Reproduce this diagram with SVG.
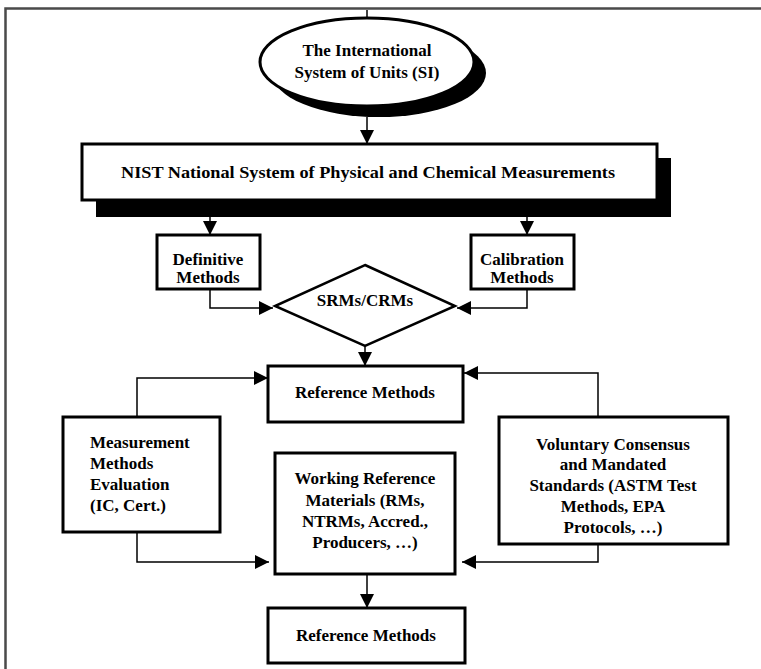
<svg xmlns="http://www.w3.org/2000/svg" width="761" height="669" viewBox="0 0 761 669">
<defs>
<marker id="ah" markerUnits="userSpaceOnUse" markerWidth="14" markerHeight="14" refX="14" refY="7" orient="auto">
<path d="M0,0 L14,7 L0,14 z" fill="#000"/>
</marker>
<style>
.box{fill:#fff;stroke:#000;stroke-width:3}
.sh{fill:#000}
.t{font-family:"Liberation Serif","Times New Roman",serif;font-weight:bold;font-size:17px;fill:#000}
.c{text-anchor:middle}
.cn{fill:none;stroke:#000;stroke-width:1.5}
</style>
</defs>
<rect width="761" height="669" fill="#fff"/>
<path d="M5.5,669 V8.5 H761" fill="none" stroke="#4a4a4a" stroke-width="2.5"/>
<g id="si">
<ellipse cx="379" cy="73" rx="107" ry="44" class="sh"/>
<ellipse cx="367" cy="62" rx="107" ry="44" class="box" stroke-width="2.5"/>
<text class="t c" x="367" y="56">The International</text>
<text class="t c" x="367" y="78">System of Units (SI)</text>
</g>
<g id="nist">
<rect x="96" y="158" width="575" height="59" class="sh"/>
<rect x="82" y="144" width="575" height="56" class="box"/>
<text class="t c" x="368" y="178" textLength="494" lengthAdjust="spacingAndGlyphs">NIST National System of Physical and Chemical Measurements</text>
</g>
<g id="definitive">
<rect x="157" y="235" width="103" height="54" class="box"/>
<text class="t c" x="208" y="265">Definitive</text>
<text class="t c" x="208" y="283">Methods</text>
</g>
<g id="calibration">
<rect x="471" y="235" width="103" height="54" class="box"/>
<text class="t c" x="522" y="265">Calibration</text>
<text class="t c" x="522" y="283">Methods</text>
</g>
<g id="srms">
<polygon points="365,265 455,306 365,346 275,306" fill="#fff" stroke="#000" stroke-width="2.5"/>
<text class="t c" x="365" y="306">SRMs/CRMs</text>
</g>
<g id="ref1">
<rect x="268" y="366" width="195" height="56" class="box"/>
<text class="t c" x="365" y="398">Reference Methods</text>
</g>
<g id="measurement">
<rect x="63" y="417" width="157" height="115" class="box"/>
<text class="t" x="90" y="448">Measurement</text>
<text class="t" x="90" y="469">Methods</text>
<text class="t" x="90" y="490">Evaluation</text>
<text class="t" x="90" y="511">(IC, Cert.)</text>
</g>
<g id="voluntary">
<rect x="499" y="417" width="229" height="127" class="box"/>
<text class="t c" x="613" y="450">Voluntary Consensus</text>
<text class="t c" x="613" y="470">and Mandated</text>
<text class="t c" x="613" y="491">Standards (ASTM Test</text>
<text class="t c" x="613" y="512">Methods, EPA</text>
<text class="t c" x="613" y="533">Protocols, …)</text>
</g>
<g id="working">
<rect x="275" y="453" width="180" height="121" class="box"/>
<text class="t c" x="365" y="484">Working Reference</text>
<text class="t c" x="365" y="506">Materials (RMs,</text>
<text class="t c" x="365" y="527">NTRMs, Accred.,</text>
<text class="t c" x="365" y="548">Producers, …)</text>
</g>
<g id="ref2">
<rect x="268" y="608" width="197" height="55" class="box"/>
<text class="t c" x="366" y="641">Reference Methods</text>
</g>
<g id="connectors">
<line x1="367" y1="10" x2="367" y2="18" class="cn"/>
<line x1="367" y1="117" x2="367" y2="144" class="cn" marker-end="url(#ah)"/>
<line x1="210" y1="217" x2="210" y2="235" class="cn" marker-end="url(#ah)"/>
<line x1="527" y1="217" x2="527" y2="235" class="cn" marker-end="url(#ah)"/>
<polyline points="210,289 210,308 273,308" class="cn" marker-end="url(#ah)"/>
<polyline points="527,289 527,308 457,308" class="cn" marker-end="url(#ah)"/>
<line x1="365" y1="346" x2="365" y2="366" class="cn" marker-end="url(#ah)"/>
<polyline points="137,417 137,378 268,378" class="cn" marker-end="url(#ah)"/>
<polyline points="598,417 598,373 464,373" class="cn" marker-end="url(#ah)"/>
<polyline points="137,532 137,562 269,562" class="cn" marker-end="url(#ah)"/>
<polyline points="598,544 598,562 462,562" class="cn" marker-end="url(#ah)"/>
<line x1="367" y1="574" x2="367" y2="608" class="cn" marker-end="url(#ah)"/>
</g>
</svg>
